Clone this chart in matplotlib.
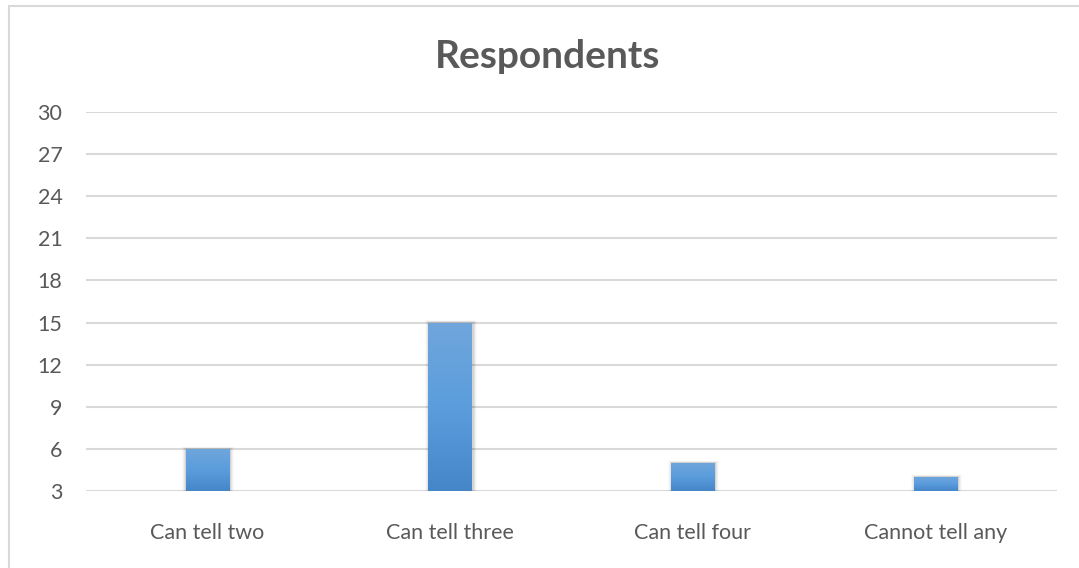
import numpy as np
import matplotlib.pyplot as plt
from matplotlib.patches import Rectangle
from matplotlib.colors import LinearSegmentedColormap

plt.rcParams['font.family'] = ['Lato', 'DejaVu Sans']

categories = ['Can tell two', 'Can tell three', 'Can tell four', 'Cannot tell any']
respondents = [6, 15, 5, 4]
y_ticks = [3, 6, 9, 12, 15, 18, 21, 24, 27, 30]

W, H = 1079, 568
fig = plt.figure(figsize=(W / 100, H / 100), dpi=100)
ax = fig.add_axes([86 / W, 1 - 491 / H, (1057 - 86) / W, (491 - 112) / H])

# outer chart border
fig.patches.append(Rectangle((8.5 / W, -0.1), 1.2, 1 - 6.5 / H + 0.1, transform=fig.transFigure,
                             fill=False, edgecolor='#d9d9d9', linewidth=1.5, zorder=0))

x = np.arange(len(categories))
bw = 0.18
bars = ax.bar(x, respondents, width=bw, color='#5b9bd5', zorder=3)

# vertical gradient plus soft shadow on each bar
grad = LinearSegmentedColormap.from_list('bar', ['#4486c7', '#5b9ddd', '#70a6db'])
ymin = y_ticks[0]
for b in bars:
    x0, w, top = b.get_x(), b.get_width(), b.get_height()
    for k, a in enumerate([0.07, 0.05, 0.035, 0.02]):
        dx = 0.004 * (k + 1)
        ax.add_patch(Rectangle((x0 - dx + 0.003, ymin), w + 2 * dx, top - ymin + dx * 10,
                               facecolor='black', alpha=a, edgecolor='none', zorder=2))
    im = ax.imshow(np.linspace(0, 1, 256).reshape(-1, 1), cmap=grad, aspect='auto',
                   extent=(x0, x0 + w, ymin, top), origin='lower', zorder=4)
    im.set_clip_path(b)

ax.set_xlim(-0.5, len(categories) - 0.5)
ax.set_ylim(3, 30)
ax.set_yticks(y_ticks)
ax.set_xticks(x)
ax.set_xticklabels(categories)
ax.grid(axis='y', color='#d9d9d9', linewidth=1.5, zorder=0)
ax.set_axisbelow(True)
for s in ax.spines.values():
    s.set_visible(False)
ax.tick_params(axis='both', length=0, labelsize=15.5, labelcolor='#595959')
ax.tick_params(axis='x', pad=23)
ax.tick_params(axis='y', pad=17)

fig.text(548 / W, 1 - 56 / H, 'Respondents', ha='center', va='center',
         fontsize=28, fontweight='bold', color='#595959')

fig.savefig('out.png', dpi=100)
